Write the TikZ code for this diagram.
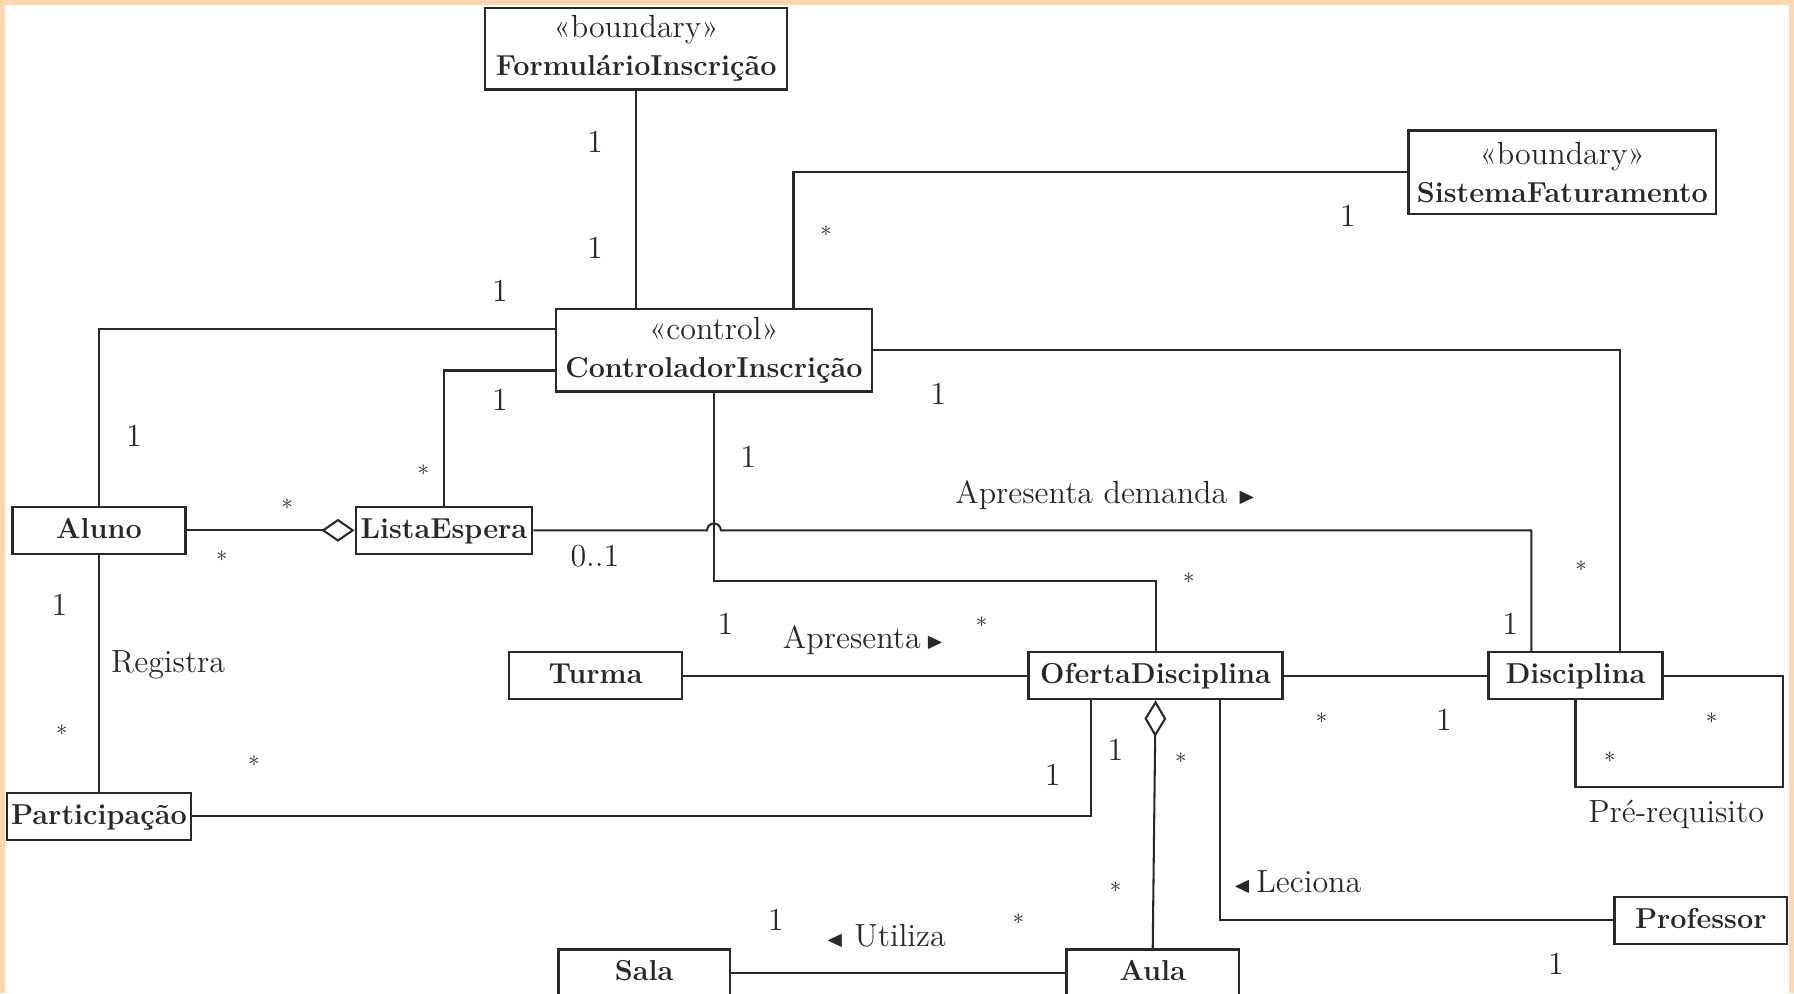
\documentclass[tikz,border=0pt]{standalone}
\usepackage{amssymb}
\usetikzlibrary{arrows.meta,calc}
\definecolor{moldura}{RGB}{253,214,180}
\definecolor{traco}{RGB}{40,40,40}

\begin{document}
\begin{tikzpicture}[x=0.5pt,y=-0.5pt]
\tikzstyle{every node} = [text=traco, font=\fontsize{14}{16.5}\selectfont]
\tikzstyle{classe} = [draw=traco, line width=1.1pt, fill=white, inner sep=1pt, minimum height=20.5pt, text height=1.6ex, text depth=0pt, font=\fontsize{12.6}{16.5}\selectfont\bfseries]
\tikzstyle{estereo} = [draw=traco, line width=1.1pt, fill=white, inner sep=1pt, align=center]
\tikzstyle{rot} = [inner sep=0pt, text height=1.6ex, text depth=0pt]
\tikzstyle{mult} = [inner sep=0pt]
\tikzstyle{liga} = [draw=traco, line width=0.9pt]

\useasboundingbox (0, 0) rectangle (1568, 868);
\fill [moldura] (0, 0) rectangle (1568, 868);
\fill [white] (4.4, 4.4) rectangle (1564, 880);

\node [estereo, minimum width=132pt, minimum height=35.5pt] (form) at (556, 42.5) {«boundary»\\{\fontsize{12.6}{16.5}\selectfont\bfseries FormulárioInscrição}};
\node [estereo, minimum width=134.5pt, minimum height=36.5pt] (fat) at (1365.5, 150.5) {«boundary»\\{\fontsize{12.6}{16.5}\selectfont\bfseries SistemaFaturamento}};
\node [estereo, minimum width=138pt, minimum height=36pt] (ctrl) at (624, 306) {«control»\\{\fontsize{12.6}{16.5}\selectfont\bfseries ControladorInscrição}};
\node [classe, minimum width=75.5pt] (aluno) at (86.5, 463.5) {Aluno};
\node [classe, minimum width=77pt] (lista) at (388, 463.5) {ListaEspera};
\node [classe, minimum width=75.5pt] (turma) at (520.5, 590.5) {Turma};
\node [classe, minimum width=111pt] (oferta) at (1010, 590.5) {OfertaDisciplina};
\node [classe, minimum width=76pt] (disc) at (1377, 590.5) {Disciplina};
\node [classe, minimum width=80.5pt] (part) at (86.5, 713.5) {Participação};
\node [classe, minimum width=75.5pt] (prof) at (1486.5, 804.5) {Professor};
\node [classe, minimum width=75pt] (sala) at (563, 850.5) {Sala};
\node [classe, minimum width=75.5pt] (aula) at (1007.5, 850.5) {Aula};

\draw [liga] (form.south) -- (form.south |- ctrl.north);
\draw [liga] ($(ctrl.north west)!.75!(ctrl.north east)$) |- (fat.west);
\draw [liga] ($(ctrl.north west)!.25!(ctrl.south west)$) -| (aluno.north);
\draw [liga] ($(ctrl.north west)!.74!(ctrl.south west)$) -| (lista.north);
\draw [liga] (ctrl.east) -| ($(disc.north west)!.75!(disc.north east)$);
\draw [liga] (ctrl.south) -- ++(0, 165) -| (oferta.north);
\draw [liga, -{Diamond[open, length=14.5pt, width=10pt]}] (aluno.east) -- (lista.west);
\draw [liga] (lista.east) -- ([xshift=-3pt]lista.east -| ctrl.south) arc [start angle=180, end angle=0, radius=3pt] -| ($(disc.north west)!.25!(disc.north east)$);
\draw [liga] (aluno.south) -- (part.north);
\draw [liga] (part.east) -| ($(oferta.south west)!.25!(oferta.south east)$);
\draw [liga] (turma.east) -- (oferta.west);
\draw [liga] (oferta.east) -- (disc.west);
\draw [liga, -{Diamond[open, length=16pt, width=9.5pt]}] (aula.north) -- (oferta.south);
\draw [liga] ($(oferta.south west)!.75!(oferta.south east)$) |- (prof.west);
\draw [liga] (disc.east) -- ++(104, 0) -- ++(0, 97.5) -| (disc.south);
\draw [liga] (sala.east) -- (aula.west);

\node [rot] (a1) at (520, 126) {1};
\node [rot] (a2) at (520, 219) {1};
\node [mult] (b1) at (722, 202) {$\scriptstyle\ast$};
\node [rot] (b2) at (1178, 191) {1};
\node [rot] (c1) at (437, 257) {1};
\node [rot] (c2) at (117, 383) {1};
\node [rot] (d1) at (437, 352) {1};
\node [mult] (d2) at (370, 411) {$\scriptstyle\ast$};
\node [rot] (e1) at (820, 347) {1};
\node [mult] (e2) at (1382, 495) {$\scriptstyle\ast$};
\node [rot] (f1) at (654, 402) {1};
\node [mult] (f2) at (1039, 505) {$\scriptstyle\ast$};
\node [mult] (g1) at (251, 441) {$\scriptstyle\ast$};
\node [mult] (g2) at (194, 486) {$\scriptstyle\ast$};
\node [rot] (h1) at (520, 488) {0..1};
\node [rot] (h2) at (966, 433) {Apresenta demanda $\scriptstyle\blacktriangleright$};
\node [rot] (h3) at (1320, 548) {1};
\node [rot] (i1) at (52, 531) {1};
\node [rot] (i2) at (147, 581) {Registra};
\node [mult] (i3) at (54, 638) {$\scriptstyle\ast$};
\node [mult] (j1) at (222, 665) {$\scriptstyle\ast$};
\node [rot] (j2) at (920, 680) {1};
\node [rot] (k1) at (634, 548) {1};
\node [rot] (k2) at (754.5, 560) {Apresenta\,$\scriptstyle\blacktriangleright$};
\node [mult] (k3) at (858, 544) {$\scriptstyle\ast$};
\node [mult] (l1) at (1155, 628) {$\scriptstyle\ast$};
\node [rot] (l2) at (1262, 632) {1};
\node [rot] (m1) at (975, 658) {1};
\node [mult] (m2) at (1032, 663) {$\scriptstyle\ast$};
\node [mult] (m3) at (975, 775) {$\scriptstyle\ast$};
\node [rot] (n1) at (1134, 773) {$\scriptstyle\blacktriangleleft$\,Leciona};
\node [rot] (n2) at (1360, 845) {1};
\node [mult] (o1) at (1496, 628) {$\scriptstyle\ast$};
\node [mult] (o2) at (1407, 662) {$\scriptstyle\ast$};
\node [rot] (o3) at (1465, 712) {Pré-requisito};
\node [rot] (p1) at (678, 806) {1};
\node [rot] (p2) at (774.5, 820) {$\scriptstyle\blacktriangleleft$\ Utiliza};
\node [mult] (p3) at (890, 803) {$\scriptstyle\ast$};

\end{tikzpicture}
\end{document}
